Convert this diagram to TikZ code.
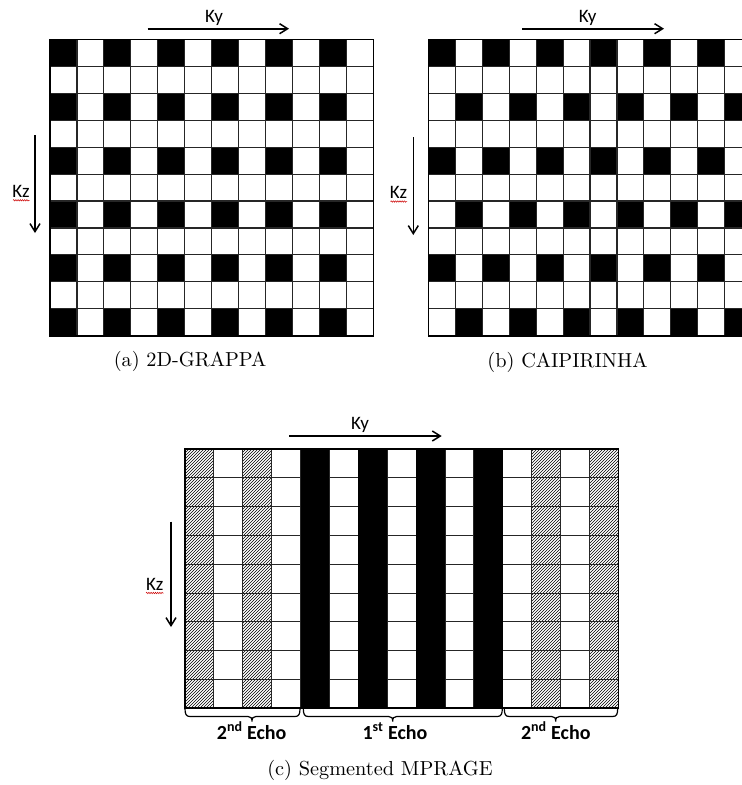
\documentclass[tikz,border=0pt]{standalone}
\usepackage{fontspec}
\newfontfamily\calfont{Carlito}
\newfontfamily\capfont{lmroman10-regular}[Extension=.otf]
\usetikzlibrary{arrows.meta,patterns,decorations.pathmorphing}
\newcommand\echobrace[3]{%
  \draw[bracestyle] (#1,708.3) .. controls (#1,714) and (#1+1,716.5) .. (#1+5,716.5)
    -- (#2-4,716.5) .. controls (#2-1,716.5) and (#2,718) .. (#2,721.5)
    .. controls (#2,718) and (#2+1,716.5) .. (#2+4,716.5)
    -- (#3-5,716.5) .. controls (#3-1,716.5) and (#3,714) .. (#3,708.3);}
\begin{document}
\begin{tikzpicture}[x=1pt,y=-1pt,
  axisarrow/.style={line width=1.6pt,-{Straight Barb[length=8pt,width=10pt,line width=1.5pt]}},
  axislabel/.style={font=\calfont\fontsize{19}{22}\selectfont,anchor=base,inner sep=0pt},
  caption/.style={font=\capfont\fontsize{20.3}{24}\selectfont,text=black,anchor=base,inner sep=0pt},
  echolabel/.style={font=\calfont\bfseries\fontsize{20}{24}\selectfont,anchor=base,inner sep=0pt},
  gridline/.style={line width=1.1pt,draw=black!85},
  border/.style={line width=1.6pt,draw=black},
  bracestyle/.style={line width=1.2pt,draw=black},
  squiggle/.style={draw=red!80!black,line width=0.5pt,decorate,decoration={snake,amplitude=0.7pt,segment length=2.2pt}},
  cellblack/.style={fill=black},
  cellhatch/.style={pattern=north east lines,pattern color=black}]
\useasboundingbox (0,0) rectangle (742,785);
\begin{scope}
\clip (0,0) rectangle (742,785);

% ---------- (a) 2D-GRAPPA ----------
\def\cw{26.95}
\foreach \r in {0,2,...,10}
  \foreach \c in {0,2,...,10}
    \fill[cellblack] ({50+\c*\cw},{39.3+\r*\cw}) rectangle ++(\cw,\cw);
\foreach \c in {1,...,11}
  \draw[gridline] ({50+\c*\cw},39.3) -- ++(0,{11*\cw});
\foreach \r in {1,...,10}
  \draw[gridline] (50,{39.3+\r*\cw}) -- ++({12*\cw},0);
\draw[border] (50,39.3) rectangle ++({12*\cw},{11*\cw});

\coordinate (kyaS) at (147.7,28.7);
\coordinate (kyaE) at (289,28.7);
\draw[axisarrow] (kyaS) -- (kyaE);
\node[axislabel] (kya) at (214,22.7) {Ky};
\coordinate (kzaS) at (35,135);
\coordinate (kzaE) at (35,233);
\draw[axisarrow] (kzaS) -- (kzaE);
\node[axislabel] (kza) at (21,197.3) {Kz};
\draw[squiggle] (13,200.3) -- (29.5,200.3);
\node[caption] (capa) at (190,366.7) {(a) 2D-GRAPPA};

% ---------- (b) CAIPIRINHA ----------
\foreach \r in {0,4,8}
  \foreach \c in {0,2,...,10}
    \fill[cellblack] ({428.3+\c*\cw},{39.3+\r*\cw}) rectangle ++(\cw,\cw);
\foreach \r in {2,6,10}
  \foreach \c in {1,3,...,11}
    \fill[cellblack] ({428.3+\c*\cw},{39.3+\r*\cw}) rectangle ++(\cw,\cw);
\foreach \c in {1,...,11}
  \draw[gridline] ({428.3+\c*\cw},39.3) -- ++(0,{11*\cw});
\foreach \r in {1,...,10}
  \draw[gridline] (428.3,{39.3+\r*\cw}) -- ++({12*\cw},0);
\draw[border] (428.3,39.3) rectangle ++({12*\cw},{11*\cw});

\coordinate (kybS) at (522.3,28.7);
\coordinate (kybE) at (664,28.7);
\draw[axisarrow] (kybS) -- (kybE);
\node[axislabel] (kyb) at (587.7,22.7) {Ky};
\coordinate (kzbS) at (413.3,137);
\coordinate (kzbE) at (413.3,235);
\draw[axisarrow] (kzbS) -- (kzbE);
\node[axislabel] (kzb) at (398.5,198.5) {Kz};
\draw[squiggle] (390.5,201.5) -- (407,201.5);
\node[caption] (capb) at (567.5,367) {(b) CAIPIRINHA};

% ---------- (c) Segmented MPRAGE ----------
\def\bw{28.89}
\def\bh{28.81}
\foreach \c in {0,2,12,14}
  \fill[cellhatch] ({185+\c*\bw},449) rectangle ++(\bw,{9*\bh});
\foreach \r in {1,...,8}
  \draw[gridline] (185,{449+\r*\bh}) -- ++({15*\bw},0);
\foreach \c in {1,...,14}
  \draw[gridline] ({185+\c*\bw},449) -- ++(0,{9*\bh});
\foreach \c in {4,6,8,10}
  \fill[cellblack] ({185+\c*\bw},449) rectangle ++(\bw,{9*\bh});
\draw[border] (185,449) rectangle ++({15*\bw},{9*\bh});

\coordinate (kycS) at (289,436);
\coordinate (kycE) at (441.7,436);
\draw[axisarrow] (kycS) -- (kycE);
\node[axislabel] (kyc) at (360,429.3) {Ky};
\coordinate (kzcS) at (171,521.7);
\coordinate (kzcE) at (171,627);
\draw[axisarrow] (kzcS) -- (kzcE);
\node[axislabel] (kzc) at (154.7,590) {Kz};
\draw[squiggle] (146,593) -- (163.5,593);

\echobrace{185}{252}{300}
\echobrace{303.3}{392.7}{502.3}
\echobrace{504.3}{555.7}{617.7}
\node[echolabel] (echo2a) at (251.7,739.3) {2\textsuperscript{nd} Echo};
\node[echolabel] (echo1) at (395,739.3) {1\textsuperscript{st} Echo};
\node[echolabel] (echo2b) at (555.8,739.3) {2\textsuperscript{nd} Echo};
\node[caption] (capc) at (380,775) {(c) Segmented MPRAGE};
\end{scope}
\end{tikzpicture}
\end{document}
